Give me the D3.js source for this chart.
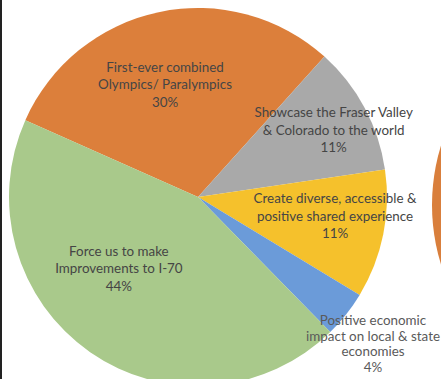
<!DOCTYPE html>
<html>
<head>
<meta charset="utf-8">
<script src="https://cdn.jsdelivr.net/npm/d3@7"></script>
<style>
  html, body { margin: 0; padding: 0; background: #ffffff; }
  svg { display: block; }
</style>
</head>
<body>
<svg id="chart" width="441" height="379"></svg>
<script>
// ---- data ----
const categories = [
  "First-ever combined Olympics/ Paralympics",
  "Showcase the Fraser Valley & Colorado to the world",
  "Create diverse, accessible & positive shared experience",
  "Positive economic impact on local & state economies",
  "Force us to make Improvements to I-70"
];
const labelLines = [
  ["First-ever combined", "Olympics/ Paralympics"],
  ["Showcase the Fraser Valley", "& Colorado to the world"],
  ["Create diverse, accessible &", "positive shared experience"],
  ["Positive economic", "impact on local & state", "economies"],
  ["Force us to make", "Improvements to I-70"]
];
const values = [30, 11, 11, 4, 44];
const percentLabels = ["30%", "11%", "11%", "4%", "44%"];
const colors = ["#dc7f3b", "#a9a9a9", "#f5c12c", "#6b9bd9", "#a9c98b"];

// ---- layout ----
const svg = d3.select("#chart");
const W = 441, H = 379;
const cx = 198, cy = 197, R = 189;
const startDeg = -66;

svg.append("rect").attr("width", W).attr("height", H).attr("fill", "#ffffff");

// neighbouring chart edge (cut off on the right)
svg.append("circle")
  .attr("cx", 633).attr("cy", 205).attr("r", 201)
  .attr("fill", "#d97f3c");

const pie = d3.pie().sort(null).value(d => d)
  .startAngle(startDeg * Math.PI / 180)
  .endAngle(startDeg * Math.PI / 180 + 2 * Math.PI);
const arcs = pie(values);
const arc = d3.arc().innerRadius(0).outerRadius(R);

const g = svg.append("g").attr("transform", `translate(${cx},${cy})`);
g.selectAll("path.slice").data(arcs).enter().append("path")
  .attr("class", "slice")
  .attr("d", arc)
  .attr("fill", (d, i) => colors[i]);

// label placement: radius (fraction of R) and angular offset (deg) from slice middle
const labelRadius = [0.618, 0.80, 0.732, 1.209, 0.566];
const labelAngleOff = [-4.4, 2.0, -3.5, 1.6, 12.9];
const lineHs = [17.3, 17.3, 17.3, 15.5, 17.3];

arcs.forEach((d, i) => {
  const mid = (d.startAngle + d.endAngle) / 2 + labelAngleOff[i] * Math.PI / 180;
  const r = labelRadius[i] * R;
  const x = Math.sin(mid) * r;
  const y = -Math.cos(mid) * r;
  const lines = labelLines[i].concat([percentLabels[i]]);
  const lineH = lineHs[i];
  const t = g.append("text")
    .attr("text-anchor", "middle")
    .attr("font-family", "Lato, 'Open Sans', sans-serif")
    .attr("font-size", 13.4)
    .attr("fill", i === 3 ? "#5a5a5a" : "#454545");
  lines.forEach((ln, k) => {
    t.append("tspan")
      .attr("x", x)
      .attr("y", y + (k - (lines.length - 1) / 2) * lineH + 4.5)
      .text(ln);
  });
});

// left dark border
svg.append("rect").attr("x", 0).attr("y", 0).attr("width", 2).attr("height", H).attr("fill", "#222222");
</script>
</body>
</html>
